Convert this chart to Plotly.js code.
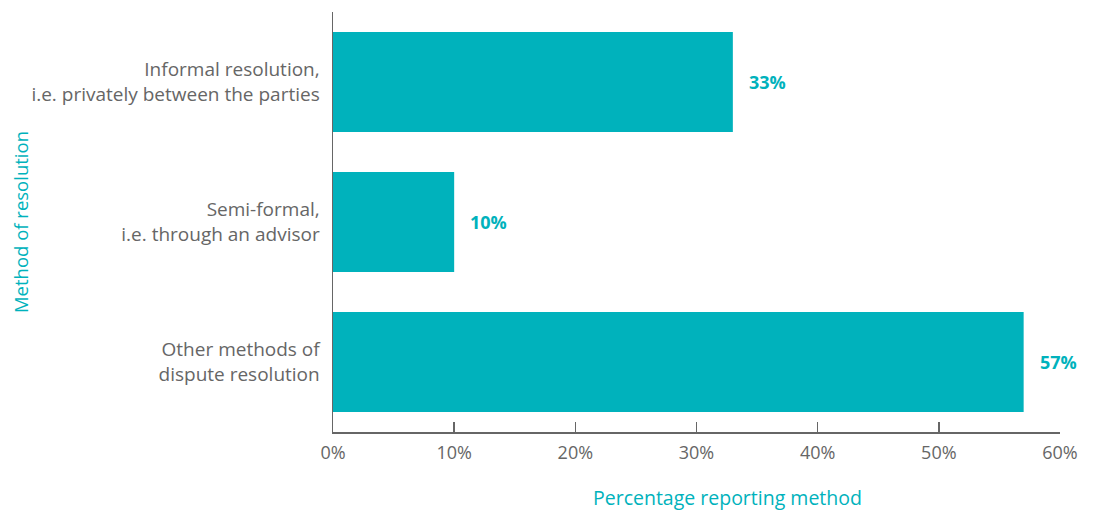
<!DOCTYPE html>
<html><head><meta charset="utf-8">
<script src="https://cdn.plot.ly/plotly-3.0.1.min.js"></script>
<style>html,body{margin:0;padding:0;background:#fff;}#chart{width:1093px;height:510px;}</style>
</head><body><div id="chart"></div>
<script>
var categories = ["Informal resolution,<br>i.e. privately between the parties", "Semi-formal,<br>i.e. through an advisor", "Other methods of<br>dispute resolution"];
var values = [33, 10, 57];
var valueLabels = ["33%", "10%", "57%"];
var xTickVals = [0, 10, 20, 30, 40, 50, 60];
var xTickText = ["0%", "10%", "20%", "30%", "40%", "50%", "60%"];

var teal = "#00B2BC";
var grey = "#666666";
var fam = "'Open Sans', 'Noto Sans', sans-serif";

var trace = {
  type: "bar", orientation: "h",
  x: values, y: categories,
  marker: {color: teal},
  hoverinfo: "skip"
};

var annotations = values.map(function(v, i){
  return {x: v, y: categories[i], xref: "x", yref: "y", text: "<b>" + valueLabels[i] + "</b>",
    showarrow: false, xanchor: "left", yanchor: "middle", xshift: 14,
    font: {family: fam, size: 18, color: teal}};
});
annotations.push({
  xref: "paper", yref: "paper", x: 0.543, y: -0.155, xanchor: "center", yanchor: "middle",
  showarrow: false, text: "Percentage reporting method",
  font: {family: fam, size: 19.5, color: teal}
});
annotations.push({
  xref: "paper", yref: "paper", x: -0.4305, y: 0.5, xanchor: "center", yanchor: "middle",
  showarrow: false, textangle: -90, text: "Method of resolution",
  font: {family: fam, size: 18.5, color: teal}
});

var layout = {
  width: 1093, height: 510,
  margin: {l: 333, r: 33, t: 12, b: 78},
  paper_bgcolor: "#fff", plot_bgcolor: "#fff",
  showlegend: false,
  bargap: 0.286,
  font: {family: fam, size: 18, color: grey},
  xaxis: {
    range: [0, 60], tickvals: xTickVals, ticktext: xTickText,
    showgrid: false, zeroline: false, showline: true, linecolor: grey, linewidth: 1.5,
    ticks: "inside", ticklen: 10, tickcolor: grey, tickwidth: 1.5,
    tickfont: {size: 18, color: grey}, ticklabelstandoff: 4
  },
  yaxis: {
    categoryorder: "array", categoryarray: categories.slice().reverse(),
    autorange: true,
    showgrid: false, zeroline: false, showline: true, linecolor: grey, linewidth: 1.5,
    ticks: "", tickfont: {size: 19, color: grey}, ticklabelstandoff: 8
  },
  annotations: annotations
};

Plotly.newPlot("chart", [trace], layout, {displayModeBar: false, staticPlot: true});
</script></body></html>
